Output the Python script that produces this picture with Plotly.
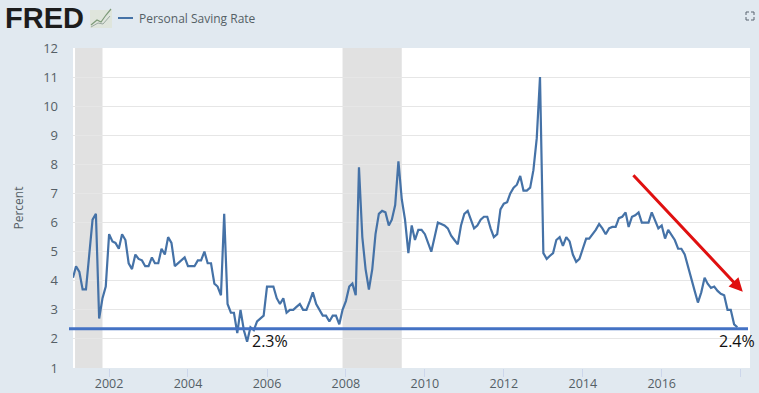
import plotly.graph_objects as go
import pandas as pd

start_month = "2001-02-01"
saving_rate = [
    4.1, 4.5, 4.3, 3.7, 3.7, 5.0, 6.1, 6.3, 2.7, 3.4, 3.8,
    5.6, 5.35, 5.3, 5.1, 5.6, 5.4, 4.6, 4.4, 4.9, 4.75, 4.7, 4.5,
    4.5, 4.8, 4.6, 4.6, 5.1, 4.9, 5.5, 5.3, 4.5, 4.6, 4.7, 4.8,
    4.5, 4.5, 4.5, 4.7, 4.7, 5.0, 4.6, 4.6, 3.9, 3.8, 3.5, 6.3,
    3.2, 2.9, 2.9, 2.2, 3.0, 2.3, 1.9, 2.4, 2.3, 2.6, 2.7, 2.8,
    3.8, 3.8, 3.8, 3.4, 3.2, 3.4, 2.9, 3.0, 3.0, 3.1, 3.2, 3.0,
    3.0, 3.3, 3.6, 3.2, 3.0, 2.8, 2.8, 2.6, 2.8, 2.8, 2.5, 3.0,
    3.3, 3.8, 3.9, 3.5, 7.9, 5.5, 4.4, 3.7, 4.4, 5.6, 6.3, 6.4,
    6.35, 5.9, 6.1, 6.6, 8.1, 6.8, 6.1, 4.95, 5.9, 5.4, 5.75, 5.75,
    5.6, 5.25, 5.0, 5.5, 6.0, 5.95, 5.9, 5.8, 5.55, 5.4, 5.25, 5.9,
    6.3, 6.4, 6.1, 5.8, 5.9, 6.1, 6.2, 6.2, 5.8, 5.5, 5.6, 6.45,
    6.65, 6.7, 7.0, 7.2, 7.3, 7.6, 7.1, 7.1, 7.2, 7.8, 8.9, 11.0,
    4.95, 4.75, 4.85, 4.95, 5.4, 5.5, 5.2, 5.5, 5.35, 4.9, 4.65, 4.75,
    5.1, 5.45, 5.45, 5.6, 5.75, 5.95, 5.8, 5.6, 5.8, 5.85, 5.85, 6.15,
    6.2, 6.35, 5.85, 6.2, 6.25, 6.35, 6.0, 6.0, 6.0, 6.35, 6.1, 5.8,
    5.9, 5.45, 5.75, 5.55, 5.4, 5.1, 5.1, 4.9, 4.45, 4.0, 3.65, 3.25,
    3.6, 4.1, 3.9, 3.75, 3.8, 3.65, 3.55, 3.5, 3.0, 3.0, 2.5, 2.4,
]
months = pd.date_range(start_month, periods=len(saving_rate), freq="MS")

recessions = [("2001-02-20", "2001-11-01"), ("2007-12-01", "2009-06-01")]
x_tick_dates = ["2002-01-01", "2004-01-01", "2006-01-01", "2008-01-01", "2010-01-01",
                "2012-01-01", "2014-01-01", "2016-01-01", "2018-01-01"]
x_tick_labels = ["2002", "2004", "2006", "2008", "2010", "2012", "2014", "2016", ""]
y_ticks = list(range(1, 13))
reference_level = 2.35
W, H = 759, 393
ML, MR, MT, MB = 73, 9, 48, 25


def px(x):
    return (x - ML) / (W - ML - MR)


def py(y):
    return (H - MB - y) / (H - MT - MB)


def page_path(points):
    return "M" + " L".join(f"{x},{y}" for x, y in points)


GREY = "#555f66"
fig = go.Figure()
fig.add_trace(go.Scatter(x=months, y=saving_rate, mode="lines", name="Personal Saving Rate",
                         line=dict(color="#4572a7", width=2.2), showlegend=False))

shapes = []
for a, b in recessions:
    shapes.append(dict(type="rect", xref="x", yref="paper", x0=a, x1=b, y0=0, y1=1,
                       fillcolor="#e1e1e1", line_width=0, layer="between"))
shapes.append(dict(type="line", xref="paper", yref="y", x0=px(69), x1=px(748),
                   y0=reference_level, y1=reference_level,
                   line=dict(color="#4472c4", width=3), layer="above"))
# legend key
shapes.append(dict(type="line", xref="paper", yref="paper", x0=px(118), x1=px(133),
                   y0=py(18), y1=py(18), line=dict(color="#4572a7", width=2)))

fig.update_layout(
    width=W, height=H,
    margin=dict(l=ML, r=MR, t=MT, b=MB, autoexpand=False),
    paper_bgcolor="#e1e9f0", plot_bgcolor="#ffffff",
    font=dict(family="Open Sans", color=GREY, size=12),
    showlegend=False,
    xaxis=dict(type="date", range=["2001-02-01", "2018-03-28"], tickvals=x_tick_dates,
               ticktext=x_tick_labels, showgrid=False, ticks="outside", ticklen=8,
               tickcolor="#ccd6eb", tickwidth=1, showline=False, zeroline=False,
               ticklabelstandoff=-4,
               tickfont=dict(size=12.5, color=GREY)),
    yaxis=dict(range=[1, 12], tickvals=y_ticks, showgrid=True, gridcolor="#e6e6e6",
               gridwidth=1, zeroline=False, showline=False, ticks="", ticklen=0,
               ticklabelstandoff=14,
               tickfont=dict(size=13, color=GREY),
               title=dict(text="Percent", font=dict(size=12, color=GREY), standoff=16)),
    shapes=shapes,
    annotations=[
        dict(text="<b>FRED</b>", xref="paper", yref="paper", x=px(3), y=py(18), xanchor="left",
             yanchor="middle", showarrow=False,
             font=dict(family="Liberation Sans", size=29, color="#1c1c1c")),
        dict(text="Personal Saving Rate", xref="paper", yref="paper", x=px(137), y=py(18),
             xanchor="left", yanchor="middle", showarrow=False,
             font=dict(family="Open Sans", size=12, color=GREY)),
        dict(text="2.3%", xref="paper", yref="paper", x=px(250), y=py(341), xanchor="left",
             yanchor="middle", showarrow=False,
             font=dict(family="Open Sans", size=16, color="#111111")),
        dict(text="2.4%", xref="paper", yref="paper", x=px(717), y=py(341), xanchor="left",
             yanchor="middle", showarrow=False,
             font=dict(family="Open Sans", size=16, color="#111111")),
        dict(text="", xref="x", yref="y", x="2018-01-20", y=3.62, axref="x", ayref="y",
             ax="2015-04-01", ay=7.68, showarrow=True, arrowhead=2, arrowsize=0.9,
             arrowwidth=3, arrowcolor="#e01010"),
    ],
)

# small FRED graph icon
fig.add_shape(type="rect", xref="paper", yref="paper", x0=px(90), x1=px(112), y0=py(28), y1=py(10),
              fillcolor="#dfe5dc", line_width=0)
fig.add_shape(type="path", xref="paper", yref="paper",
              path=page_path([(px(91), py(25)), (px(97), py(20)), (px(101), py(22)), (px(106), py(15)), (px(111), py(9))]),
              line=dict(color="#7d9a78", width=1.2))
fig.add_shape(type="path", xref="paper", yref="paper",
              path=page_path([(px(91), py(27)), (px(98), py(23)), (px(103), py(24)), (px(110), py(16))]),
              line=dict(color="#9aa8a0", width=1))
# fullscreen icon corners
for cx, cy, dx, dy in [(746, 12, 1, 1), (754, 12, -1, 1), (746, 20, 1, -1), (754, 20, -1, -1)]:
    fig.add_shape(type="path", xref="paper", yref="paper",
                  path=page_path([(px(cx + 3 * dx), py(cy)), (px(cx), py(cy)), (px(cx), py(cy + 3 * dy))]),
                  line=dict(color="#5a6570", width=1))

fig.write_html("out.html", config=dict(displayModeBar=False),
               post_script="document.body.style.margin='0';document.documentElement.style.overflow='hidden';")
